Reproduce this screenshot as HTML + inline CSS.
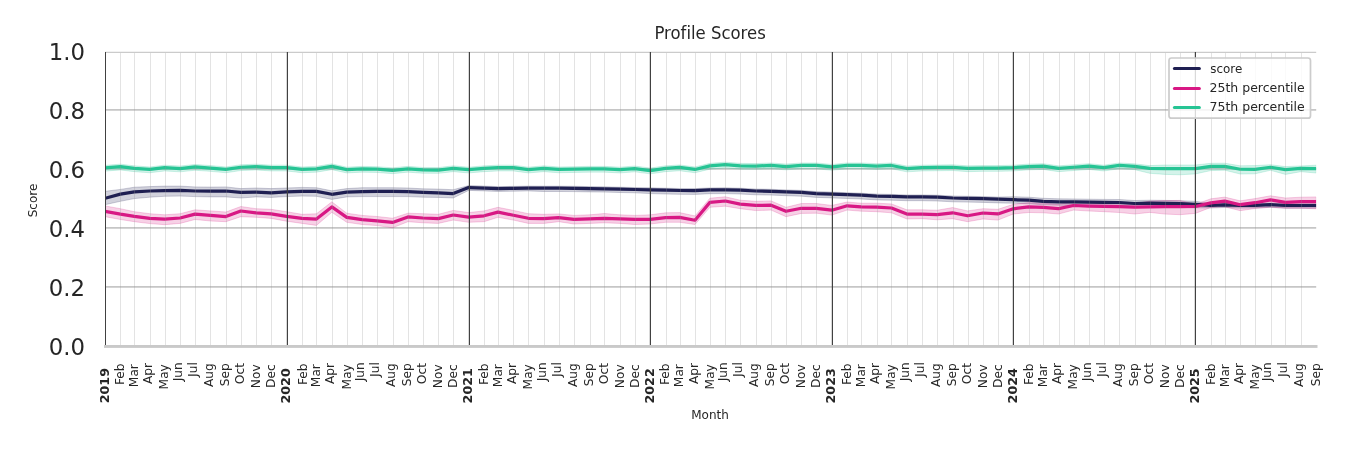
<!DOCTYPE html>
<html><head><meta charset="utf-8"><title>Profile Scores</title><style>
html,body{margin:0;padding:0;background:#fff;}
body{width:1350px;height:450px;overflow:hidden;}
svg{display:block;will-change:transform;}
text{font-family:"DejaVu Sans","Liberation Sans",sans-serif;fill:#262626;font-variant-ligatures:none;font-feature-settings:"liga" 0,"clig" 0;}
.title{font-size:17.6px;}
.yt{font-size:22.8px;}
.ax{font-size:12px;}
.lg{font-size:12.5px;}
.xt{font-size:12.2px;}
.xty{font-size:12.7px;font-weight:bold;}
</style></head>
<body><svg width="1350" height="450" viewBox="0 0 1350 450"><rect width="1350" height="450" fill="#fff"/><defs><clipPath id="ax"><rect x="105.0" y="51.0" width="1211.2" height="295.3"/></clipPath></defs><line x1="105.0" x2="1316.2" y1="286.9" y2="286.9" stroke="#c6c6c6" stroke-width="1.8"/><line x1="105.0" x2="1316.2" y1="227.9" y2="227.9" stroke="#c6c6c6" stroke-width="1.8"/><line x1="105.0" x2="1316.2" y1="168.9" y2="168.9" stroke="#c6c6c6" stroke-width="1.8"/><line x1="105.0" x2="1316.2" y1="109.9" y2="109.9" stroke="#c6c6c6" stroke-width="1.8"/><line x1="105.0" x2="1316.2" y1="52.4" y2="52.4" stroke="#cbcbcb" stroke-width="1.2"/><g clip-path="url(#ax)"><polygon points="105,191.3 120.42,189.4 134.35,187.2 149.77,186.6 164.69,186.1 180.11,186.1 195.04,186.9 210.46,187.1 225.88,186.9 240.8,188.6 256.22,188 271.15,188.6 286.57,188 301.99,187.4 316.42,187.7 331.84,190.8 346.76,188.6 362.18,187.7 377.11,187.7 392.53,187.7 407.95,188 422.87,188.8 438.29,189.1 453.21,189.7 468.64,185.6 484.06,186.1 497.99,186.6 513.41,186.4 528.33,186.1 543.75,186.2 558.67,186.2 574.1,186.3 589.52,186.6 604.44,186.8 619.86,187.2 634.78,187.5 650.21,187.8 665.63,188.2 679.55,188.5 694.98,188.6 709.9,187.9 725.32,187.8 740.24,188.2 755.66,189 771.09,189.3 786.01,189.9 801.43,190.4 816.35,191.6 831.77,192.1 847.2,192.7 861.12,193.2 876.54,194.1 891.47,194.4 906.89,194.9 921.81,194.9 937.23,195.2 952.65,196 967.58,196.3 983,196.6 997.92,197.1 1013.34,196.7 1028.76,197.2 1043.19,198.3 1058.61,198.8 1073.54,198.9 1088.96,199.2 1103.88,199.4 1119.3,199.5 1134.72,200.5 1149.64,200.2 1165.07,200.4 1179.99,200.7 1195.41,201.3 1210.83,203.5 1224.76,203 1240.18,203.6 1255.1,203.5 1270.53,202.9 1285.45,203.7 1300.87,203.7 1316.29,203.7 1316.29,208.2 1300.87,208.2 1285.45,208.2 1270.53,207.4 1255.1,208 1240.18,208.1 1224.76,207.5 1210.83,208 1195.41,207.8 1179.99,207.2 1165.07,206.9 1149.64,206.7 1134.72,207 1119.3,206 1103.88,205.9 1088.96,205.7 1073.54,205.4 1058.61,205.3 1043.19,204.8 1028.76,203.7 1013.34,203.2 997.92,202.9 983,202.4 967.58,202.1 952.65,201.8 937.23,201 921.81,200.7 906.89,200.7 891.47,200.2 876.54,199.9 861.12,199 847.2,198.5 831.77,197.9 816.35,197.4 801.43,196.2 786.01,195.7 771.09,195.1 755.66,194.8 740.24,194 725.32,193.6 709.9,193.7 694.98,194.4 679.55,194.3 665.63,194 650.21,193.6 634.78,192.8 619.86,192.5 604.44,192.1 589.52,191.9 574.1,191.6 558.67,191.5 543.75,191.5 528.33,190.9 513.41,191.2 497.99,191.4 484.06,190.9 468.64,190.4 453.21,198 438.29,197.4 422.87,197.2 407.95,196.6 392.53,196.6 377.11,196.6 362.18,196.6 346.76,196.9 331.84,199.4 316.42,196.3 301.99,196.1 286.57,196.6 271.15,197.4 256.22,196.9 240.8,198 225.88,196.9 210.46,196.9 195.04,196.6 180.11,196.1 164.69,196.3 149.77,197.2 134.35,198.6 120.42,201.3 105,204.7" fill="#1f1f52" fill-opacity="0.2" stroke="#1f1f52" stroke-opacity="0.2" stroke-width="1"/><polygon points="105,205.9 120.42,208.7 134.35,211.7 149.77,213.7 164.69,214.8 180.11,213.7 195.04,209.8 210.46,210.9 225.88,212 240.8,206.5 256.22,208.7 271.15,209.3 286.57,211.7 301.99,214.3 316.42,213.8 331.84,201.8 346.76,213.2 362.18,215.4 377.11,216.5 392.53,218.2 407.95,213.2 422.87,213.7 438.29,214.3 453.21,210.4 468.64,212.6 484.06,210.9 497.99,207.3 513.41,210.4 528.33,213.7 543.75,214.3 558.67,213.9 574.1,215.4 589.52,214.8 604.44,213.5 619.86,214.8 634.78,215.4 650.21,214.8 665.63,212.8 679.55,212.6 694.98,215.9 709.9,198.2 725.32,196.8 740.24,200.2 755.66,201.3 771.09,200.9 786.01,207.3 801.43,203.5 816.35,203.5 831.77,205.4 847.2,202 861.12,203.2 876.54,203.2 891.47,203.9 906.89,209.8 921.81,209.8 937.23,210.2 952.65,207.6 967.58,210.9 983,208.7 997.92,209.3 1013.34,204.3 1028.76,202.6 1043.19,203.2 1058.61,204.3 1073.54,202 1088.96,202.6 1103.88,203.2 1119.3,203.6 1134.72,203.7 1149.64,201.1 1165.07,200.6 1179.99,200.4 1195.41,204.3 1210.83,198.8 1224.76,197.1 1240.18,200.8 1255.1,198.6 1270.53,195.8 1285.45,198 1300.87,197.2 1316.29,196.9 1316.29,208.8 1300.87,208.2 1285.45,208.2 1270.53,207.1 1255.1,208.5 1240.18,210.7 1224.76,206.7 1210.83,207.4 1195.41,213.4 1179.99,214.7 1165.07,214.1 1149.64,212.4 1134.72,214 1119.3,212.5 1103.88,211.7 1088.96,211 1073.54,210.1 1058.61,214 1043.19,212.8 1028.76,212.5 1013.34,214 997.92,220.1 983,219 967.58,221.7 952.65,218.7 937.23,219.8 921.81,218.7 906.89,219 891.47,212.8 876.54,211.7 861.12,211.2 847.2,210.1 831.77,215.1 816.35,213.2 801.43,213.4 786.01,216.7 771.09,210.1 755.66,210.6 740.24,208.7 725.32,206.2 709.9,207.3 694.98,224.5 679.55,222.3 665.63,222.3 650.21,224 634.78,224.5 619.86,223.4 604.44,222.8 589.52,223.4 574.1,224 558.67,221.7 543.75,223.4 528.33,223.4 513.41,220.1 497.99,217.3 484.06,221.7 468.64,222.3 453.21,220.1 438.29,223.4 422.87,222.8 407.95,221.7 392.53,227.8 377.11,225.6 362.18,224.5 346.76,222.3 331.84,212.3 316.42,225.4 301.99,223.4 286.57,221.2 271.15,218.4 256.22,217.3 240.8,216.7 225.88,221.7 210.46,221 195.04,219.5 180.11,223.4 164.69,224.7 149.77,223.6 134.35,221.7 120.42,219.5 105,216.7" fill="#d81884" fill-opacity="0.2" stroke="#d81884" stroke-opacity="0.2" stroke-width="1"/><polygon points="105,165.35 120.42,164.15 134.35,165.85 149.77,166.95 164.69,165.15 180.11,166.05 195.04,164.45 210.46,165.55 225.88,166.95 240.8,164.75 256.22,164.15 271.15,165.15 286.57,165.15 301.99,166.95 316.42,166.35 331.84,163.85 346.76,167.15 362.18,166.35 377.11,166.65 392.53,167.85 407.95,166.35 422.87,167.45 438.29,167.55 453.21,165.85 468.64,167.15 484.06,165.85 497.99,165.15 513.41,165.15 528.33,167.15 543.75,165.85 558.67,166.95 574.1,166.65 589.52,166.35 604.44,166.35 619.86,167.15 634.78,166.05 650.21,168.05 665.63,165.85 679.55,164.95 694.98,166.95 709.9,163.35 725.32,162.15 740.24,163.35 755.66,163.55 771.09,162.95 786.01,164.05 801.43,162.95 816.35,162.95 831.77,164.45 847.2,162.95 861.12,162.95 876.54,163.65 891.47,162.95 906.89,166.05 921.81,165.15 937.23,164.95 952.65,164.75 967.58,165.85 983,165.55 997.92,165.55 1013.34,165.15 1028.76,164.05 1043.19,163.65 1058.61,165.85 1073.54,164.75 1088.96,163.65 1103.88,165.15 1119.3,162.95 1134.72,163.85 1149.64,165.6 1165.07,165 1179.99,165 1195.41,165 1210.83,163.3 1224.76,163.2 1240.18,165.8 1255.1,165.6 1270.53,164.7 1285.45,166.6 1300.87,165.9 1316.29,165.2 1316.29,173 1300.87,171.7 1285.45,174.4 1270.53,170.3 1255.1,173.8 1240.18,174 1224.76,170.2 1210.83,170.6 1195.41,173.9 1179.99,174.8 1165.07,174.4 1149.64,173.3 1134.72,169.65 1119.3,168.75 1103.88,170.95 1088.96,169.45 1073.54,170.55 1058.61,171.65 1043.19,169.45 1028.76,169.85 1013.34,170.95 997.92,171.35 983,171.35 967.58,171.65 952.65,170.55 937.23,170.75 921.81,170.95 906.89,171.85 891.47,168.75 876.54,169.45 861.12,168.75 847.2,168.75 831.77,170.25 816.35,168.75 801.43,168.75 786.01,169.85 771.09,168.75 755.66,169.35 740.24,169.15 725.32,167.95 709.9,169.15 694.98,172.75 679.55,170.75 665.63,171.65 650.21,173.85 634.78,171.85 619.86,172.95 604.44,172.15 589.52,172.15 574.1,172.45 558.67,172.75 543.75,171.65 528.33,172.95 513.41,170.95 497.99,170.95 484.06,171.65 468.64,172.95 453.21,171.65 438.29,173.35 422.87,173.25 407.95,172.15 392.53,173.65 377.11,172.45 362.18,172.15 346.76,172.95 331.84,169.65 316.42,172.15 301.99,172.75 286.57,170.95 271.15,170.95 256.22,169.95 240.8,170.55 225.88,172.75 210.46,171.35 195.04,170.25 180.11,171.85 164.69,170.95 149.77,172.75 134.35,171.65 120.42,169.95 105,171.15" fill="#26c494" fill-opacity="0.2" stroke="#26c494" stroke-opacity="0.2" stroke-width="1"/><polyline points="105,198.3 120.42,194.1 134.35,191.9 149.77,191 164.69,190.6 180.11,190.4 195.04,191 210.46,191.1 225.88,191 240.8,192.4 256.22,192.1 271.15,192.8 286.57,191.9 301.99,191.3 316.42,191.4 331.84,194.3 346.76,192.1 362.18,191.6 377.11,191.4 392.53,191.3 407.95,191.7 422.87,192.4 438.29,192.8 453.21,193.6 468.64,187.6 484.06,188.1 497.99,188.6 513.41,188.4 528.33,188.1 543.75,188.2 558.67,188.2 574.1,188.3 589.52,188.6 604.44,188.8 619.86,189.2 634.78,189.5 650.21,189.8 665.63,190.2 679.55,190.5 694.98,190.6 709.9,189.9 725.32,189.8 740.24,190.2 755.66,191 771.09,191.3 786.01,191.9 801.43,192.4 816.35,193.6 831.77,194.1 847.2,194.7 861.12,195.2 876.54,196.1 891.47,196.4 906.89,196.9 921.81,196.9 937.23,197.2 952.65,198 967.58,198.3 983,198.6 997.92,199.1 1013.34,199.7 1028.76,200.2 1043.19,201.3 1058.61,201.8 1073.54,201.9 1088.96,202.2 1103.88,202.4 1119.3,202.5 1134.72,203.5 1149.64,203.2 1165.07,203.4 1179.99,203.7 1195.41,204.3 1210.83,205.3 1224.76,204.8 1240.18,205.4 1255.1,205.3 1270.53,204.7 1285.45,205.5 1300.87,205.5 1316.29,205.5" fill="none" stroke="#1f1f52" stroke-width="3.2" stroke-linejoin="round" stroke-linecap="butt"/><polyline points="105,211.3 120.42,214.1 134.35,216.3 149.77,218.3 164.69,219.1 180.11,218 195.04,214.1 210.46,215.4 225.88,216.6 240.8,211 256.22,212.8 271.15,213.9 286.57,216.3 301.99,218.3 316.42,219.1 331.84,206.9 346.76,217.4 362.18,219.7 377.11,220.8 392.53,222.4 407.95,216.9 422.87,218 438.29,218.6 453.21,215 468.64,217.2 484.06,215.8 497.99,212.1 513.41,215.2 528.33,218.3 543.75,218.6 558.67,217.7 574.1,219.4 589.52,218.8 604.44,218.3 619.86,218.8 634.78,219.4 650.21,219.4 665.63,217.7 679.55,217.4 694.98,220.2 709.9,202.4 725.32,201 740.24,204.1 755.66,205.4 771.09,205.2 786.01,211.3 801.43,208.3 816.35,208.3 831.77,210.2 847.2,205.8 861.12,206.9 876.54,207.2 891.47,208 906.89,214.1 921.81,214.1 937.23,214.7 952.65,212.8 967.58,215.8 983,213 997.92,213.9 1013.34,208.8 1028.76,206.9 1043.19,207.4 1058.61,208.6 1073.54,205.5 1088.96,206.1 1103.88,206.4 1119.3,206.7 1134.72,207.2 1149.64,206.8 1165.07,206.7 1179.99,206.7 1195.41,206.5 1210.83,202.9 1224.76,201.1 1240.18,204.7 1255.1,202.7 1270.53,199.9 1285.45,202.4 1300.87,201.7 1316.29,201.7" fill="none" stroke="#d81884" stroke-width="3.2" stroke-linejoin="round" stroke-linecap="butt"/><polyline points="105,167.85 120.42,166.65 134.35,168.35 149.77,169.45 164.69,167.65 180.11,168.55 195.04,166.95 210.46,168.05 225.88,169.45 240.8,167.25 256.22,166.65 271.15,167.65 286.57,167.65 301.99,169.45 316.42,168.85 331.84,166.35 346.76,169.65 362.18,168.85 377.11,169.15 392.53,170.35 407.95,168.85 422.87,169.95 438.29,170.05 453.21,168.35 468.64,169.65 484.06,168.35 497.99,167.65 513.41,167.65 528.33,169.65 543.75,168.35 558.67,169.45 574.1,169.15 589.52,168.85 604.44,168.85 619.86,169.65 634.78,168.55 650.21,170.55 665.63,168.35 679.55,167.45 694.98,169.45 709.9,165.85 725.32,164.65 740.24,165.85 755.66,166.05 771.09,165.45 786.01,166.55 801.43,165.45 816.35,165.45 831.77,166.95 847.2,165.45 861.12,165.45 876.54,166.15 891.47,165.45 906.89,168.55 921.81,167.65 937.23,167.45 952.65,167.25 967.58,168.35 983,168.05 997.92,168.05 1013.34,167.65 1028.76,166.55 1043.19,166.15 1058.61,168.35 1073.54,167.25 1088.96,166.15 1103.88,167.65 1119.3,165.45 1134.72,166.35 1149.64,168.35 1165.07,168.55 1179.99,168.55 1195.41,168.55 1210.83,166.45 1224.76,166.35 1240.18,169.25 1255.1,169.35 1270.53,167.25 1285.45,169.65 1300.87,168.35 1316.29,168.65" fill="none" stroke="#26c494" stroke-width="3.2" stroke-linejoin="round" stroke-linecap="butt"/></g><line x1="120.5" x2="120.5" y1="53.0" y2="345.0" stroke="#939393" stroke-opacity="0.26" stroke-width="1"/><line x1="134.5" x2="134.5" y1="53.0" y2="345.0" stroke="#939393" stroke-opacity="0.26" stroke-width="1"/><line x1="150.5" x2="150.5" y1="53.0" y2="345.0" stroke="#939393" stroke-opacity="0.26" stroke-width="1"/><line x1="165.5" x2="165.5" y1="53.0" y2="345.0" stroke="#939393" stroke-opacity="0.26" stroke-width="1"/><line x1="180.5" x2="180.5" y1="53.0" y2="345.0" stroke="#939393" stroke-opacity="0.26" stroke-width="1"/><line x1="195.5" x2="195.5" y1="53.0" y2="345.0" stroke="#939393" stroke-opacity="0.26" stroke-width="1"/><line x1="210.5" x2="210.5" y1="53.0" y2="345.0" stroke="#939393" stroke-opacity="0.26" stroke-width="1"/><line x1="226.5" x2="226.5" y1="53.0" y2="345.0" stroke="#939393" stroke-opacity="0.26" stroke-width="1"/><line x1="241.5" x2="241.5" y1="53.0" y2="345.0" stroke="#939393" stroke-opacity="0.26" stroke-width="1"/><line x1="256.5" x2="256.5" y1="53.0" y2="345.0" stroke="#939393" stroke-opacity="0.26" stroke-width="1"/><line x1="271.5" x2="271.5" y1="53.0" y2="345.0" stroke="#939393" stroke-opacity="0.26" stroke-width="1"/><line x1="302.5" x2="302.5" y1="53.0" y2="345.0" stroke="#939393" stroke-opacity="0.26" stroke-width="1"/><line x1="316.5" x2="316.5" y1="53.0" y2="345.0" stroke="#939393" stroke-opacity="0.26" stroke-width="1"/><line x1="332.5" x2="332.5" y1="53.0" y2="345.0" stroke="#939393" stroke-opacity="0.26" stroke-width="1"/><line x1="347.5" x2="347.5" y1="53.0" y2="345.0" stroke="#939393" stroke-opacity="0.26" stroke-width="1"/><line x1="362.5" x2="362.5" y1="53.0" y2="345.0" stroke="#939393" stroke-opacity="0.26" stroke-width="1"/><line x1="377.5" x2="377.5" y1="53.0" y2="345.0" stroke="#939393" stroke-opacity="0.26" stroke-width="1"/><line x1="393.5" x2="393.5" y1="53.0" y2="345.0" stroke="#939393" stroke-opacity="0.26" stroke-width="1"/><line x1="408.5" x2="408.5" y1="53.0" y2="345.0" stroke="#939393" stroke-opacity="0.26" stroke-width="1"/><line x1="423.5" x2="423.5" y1="53.0" y2="345.0" stroke="#939393" stroke-opacity="0.26" stroke-width="1"/><line x1="438.5" x2="438.5" y1="53.0" y2="345.0" stroke="#939393" stroke-opacity="0.26" stroke-width="1"/><line x1="453.5" x2="453.5" y1="53.0" y2="345.0" stroke="#939393" stroke-opacity="0.26" stroke-width="1"/><line x1="484.5" x2="484.5" y1="53.0" y2="345.0" stroke="#939393" stroke-opacity="0.26" stroke-width="1"/><line x1="498.5" x2="498.5" y1="53.0" y2="345.0" stroke="#939393" stroke-opacity="0.26" stroke-width="1"/><line x1="513.5" x2="513.5" y1="53.0" y2="345.0" stroke="#939393" stroke-opacity="0.26" stroke-width="1"/><line x1="528.5" x2="528.5" y1="53.0" y2="345.0" stroke="#939393" stroke-opacity="0.26" stroke-width="1"/><line x1="544.5" x2="544.5" y1="53.0" y2="345.0" stroke="#939393" stroke-opacity="0.26" stroke-width="1"/><line x1="559.5" x2="559.5" y1="53.0" y2="345.0" stroke="#939393" stroke-opacity="0.26" stroke-width="1"/><line x1="574.5" x2="574.5" y1="53.0" y2="345.0" stroke="#939393" stroke-opacity="0.26" stroke-width="1"/><line x1="590.5" x2="590.5" y1="53.0" y2="345.0" stroke="#939393" stroke-opacity="0.26" stroke-width="1"/><line x1="604.5" x2="604.5" y1="53.0" y2="345.0" stroke="#939393" stroke-opacity="0.26" stroke-width="1"/><line x1="620.5" x2="620.5" y1="53.0" y2="345.0" stroke="#939393" stroke-opacity="0.26" stroke-width="1"/><line x1="635.5" x2="635.5" y1="53.0" y2="345.0" stroke="#939393" stroke-opacity="0.26" stroke-width="1"/><line x1="666.5" x2="666.5" y1="53.0" y2="345.0" stroke="#939393" stroke-opacity="0.26" stroke-width="1"/><line x1="680.5" x2="680.5" y1="53.0" y2="345.0" stroke="#939393" stroke-opacity="0.26" stroke-width="1"/><line x1="695.5" x2="695.5" y1="53.0" y2="345.0" stroke="#939393" stroke-opacity="0.26" stroke-width="1"/><line x1="710.5" x2="710.5" y1="53.0" y2="345.0" stroke="#939393" stroke-opacity="0.26" stroke-width="1"/><line x1="725.5" x2="725.5" y1="53.0" y2="345.0" stroke="#939393" stroke-opacity="0.26" stroke-width="1"/><line x1="740.5" x2="740.5" y1="53.0" y2="345.0" stroke="#939393" stroke-opacity="0.26" stroke-width="1"/><line x1="756.5" x2="756.5" y1="53.0" y2="345.0" stroke="#939393" stroke-opacity="0.26" stroke-width="1"/><line x1="771.5" x2="771.5" y1="53.0" y2="345.0" stroke="#939393" stroke-opacity="0.26" stroke-width="1"/><line x1="786.5" x2="786.5" y1="53.0" y2="345.0" stroke="#939393" stroke-opacity="0.26" stroke-width="1"/><line x1="801.5" x2="801.5" y1="53.0" y2="345.0" stroke="#939393" stroke-opacity="0.26" stroke-width="1"/><line x1="816.5" x2="816.5" y1="53.0" y2="345.0" stroke="#939393" stroke-opacity="0.26" stroke-width="1"/><line x1="847.5" x2="847.5" y1="53.0" y2="345.0" stroke="#939393" stroke-opacity="0.26" stroke-width="1"/><line x1="861.5" x2="861.5" y1="53.0" y2="345.0" stroke="#939393" stroke-opacity="0.26" stroke-width="1"/><line x1="877.5" x2="877.5" y1="53.0" y2="345.0" stroke="#939393" stroke-opacity="0.26" stroke-width="1"/><line x1="891.5" x2="891.5" y1="53.0" y2="345.0" stroke="#939393" stroke-opacity="0.26" stroke-width="1"/><line x1="907.5" x2="907.5" y1="53.0" y2="345.0" stroke="#939393" stroke-opacity="0.26" stroke-width="1"/><line x1="922.5" x2="922.5" y1="53.0" y2="345.0" stroke="#939393" stroke-opacity="0.26" stroke-width="1"/><line x1="937.5" x2="937.5" y1="53.0" y2="345.0" stroke="#939393" stroke-opacity="0.26" stroke-width="1"/><line x1="953.5" x2="953.5" y1="53.0" y2="345.0" stroke="#939393" stroke-opacity="0.26" stroke-width="1"/><line x1="968.5" x2="968.5" y1="53.0" y2="345.0" stroke="#939393" stroke-opacity="0.26" stroke-width="1"/><line x1="983.5" x2="983.5" y1="53.0" y2="345.0" stroke="#939393" stroke-opacity="0.26" stroke-width="1"/><line x1="998.5" x2="998.5" y1="53.0" y2="345.0" stroke="#939393" stroke-opacity="0.26" stroke-width="1"/><line x1="1029.5" x2="1029.5" y1="53.0" y2="345.0" stroke="#939393" stroke-opacity="0.26" stroke-width="1"/><line x1="1043.5" x2="1043.5" y1="53.0" y2="345.0" stroke="#939393" stroke-opacity="0.26" stroke-width="1"/><line x1="1059.5" x2="1059.5" y1="53.0" y2="345.0" stroke="#939393" stroke-opacity="0.26" stroke-width="1"/><line x1="1074.5" x2="1074.5" y1="53.0" y2="345.0" stroke="#939393" stroke-opacity="0.26" stroke-width="1"/><line x1="1089.5" x2="1089.5" y1="53.0" y2="345.0" stroke="#939393" stroke-opacity="0.26" stroke-width="1"/><line x1="1104.5" x2="1104.5" y1="53.0" y2="345.0" stroke="#939393" stroke-opacity="0.26" stroke-width="1"/><line x1="1119.5" x2="1119.5" y1="53.0" y2="345.0" stroke="#939393" stroke-opacity="0.26" stroke-width="1"/><line x1="1135.5" x2="1135.5" y1="53.0" y2="345.0" stroke="#939393" stroke-opacity="0.26" stroke-width="1"/><line x1="1150.5" x2="1150.5" y1="53.0" y2="345.0" stroke="#939393" stroke-opacity="0.26" stroke-width="1"/><line x1="1165.5" x2="1165.5" y1="53.0" y2="345.0" stroke="#939393" stroke-opacity="0.26" stroke-width="1"/><line x1="1180.5" x2="1180.5" y1="53.0" y2="345.0" stroke="#939393" stroke-opacity="0.26" stroke-width="1"/><line x1="1211.5" x2="1211.5" y1="53.0" y2="345.0" stroke="#939393" stroke-opacity="0.26" stroke-width="1"/><line x1="1225.5" x2="1225.5" y1="53.0" y2="345.0" stroke="#939393" stroke-opacity="0.26" stroke-width="1"/><line x1="1240.5" x2="1240.5" y1="53.0" y2="345.0" stroke="#939393" stroke-opacity="0.26" stroke-width="1"/><line x1="1255.5" x2="1255.5" y1="53.0" y2="345.0" stroke="#939393" stroke-opacity="0.26" stroke-width="1"/><line x1="1271.5" x2="1271.5" y1="53.0" y2="345.0" stroke="#939393" stroke-opacity="0.26" stroke-width="1"/><line x1="1285.5" x2="1285.5" y1="53.0" y2="345.0" stroke="#939393" stroke-opacity="0.26" stroke-width="1"/><line x1="1301.5" x2="1301.5" y1="53.0" y2="345.0" stroke="#939393" stroke-opacity="0.26" stroke-width="1"/><rect x="104" y="345" width="1213.5" height="2.9" fill="#c9c9c9"/><line x1="105.5" x2="105.5" y1="52.0" y2="345" stroke="#414141" stroke-width="1.0"/><line x1="287.4" x2="287.4" y1="52.0" y2="345" stroke="#414141" stroke-width="1.2"/><line x1="469.4" x2="469.4" y1="52.0" y2="345" stroke="#414141" stroke-width="1.2"/><line x1="650.4" x2="650.4" y1="52.0" y2="345" stroke="#414141" stroke-width="1.2"/><line x1="832.4" x2="832.4" y1="52.0" y2="345" stroke="#414141" stroke-width="1.2"/><line x1="1013.4" x2="1013.4" y1="52.0" y2="345" stroke="#414141" stroke-width="1.2"/><line x1="1195.4" x2="1195.4" y1="52.0" y2="345" stroke="#414141" stroke-width="1.2"/><rect x="1169.0" y="58.0" width="141.5" height="60.2" rx="2.5" ry="2.5" fill="#fff" fill-opacity="0.8" stroke="#cccccc" stroke-width="1.7"/><line x1="1174.4" x2="1199.4" y1="68.5" y2="68.5" stroke="#1f1f52" stroke-width="3" stroke-linecap="round"/><text x="1210.3" y="72.6" class="lg" textLength="32.0" lengthAdjust="spacingAndGlyphs">score</text><line x1="1174.4" x2="1199.4" y1="88.5" y2="88.5" stroke="#d81884" stroke-width="3" stroke-linecap="round"/><text x="1209.5" y="91.7" class="lg">25th percentile</text><line x1="1174.4" x2="1199.4" y1="107.5" y2="107.5" stroke="#26c494" stroke-width="3" stroke-linecap="round"/><text x="1209.5" y="110.7" class="lg">75th percentile</text><text x="654.4" y="38.8" class="title" textLength="111.4" lengthAdjust="spacingAndGlyphs">Profile Scores</text><text x="85" y="59.6" class="yt" text-anchor="end">1.0</text><text x="85" y="118.5" class="yt" text-anchor="end">0.8</text><text x="85" y="177.5" class="yt" text-anchor="end">0.6</text><text x="85" y="236.5" class="yt" text-anchor="end">0.4</text><text x="85" y="295.5" class="yt" text-anchor="end">0.2</text><text x="85" y="354.5" class="yt" text-anchor="end">0.0</text><text transform="translate(37.2,200.5) rotate(-90)" class="ax" text-anchor="middle">Score</text><text x="710" y="418.8" class="ax" text-anchor="middle">Month</text><text transform="translate(108.80,368.04) rotate(-90)" class="xty" text-anchor="end">2019</text><text transform="translate(123.94,363.52) rotate(-90)" class="xt" text-anchor="end">Feb</text><text transform="translate(138.05,364.14) rotate(-90)" class="xt" text-anchor="end">Mar</text><text transform="translate(151.75,363.01) rotate(-90)" class="xt" text-anchor="end">Apr</text><text transform="translate(168.15,364.18) rotate(-90)" class="xt" text-anchor="end">May</text><text transform="translate(182.03,362.20) rotate(-90)" class="xt" text-anchor="end">Jun</text><text transform="translate(196.90,362.16) rotate(-90)" class="xt" text-anchor="end">Jul</text><text transform="translate(212.83,363.17) rotate(-90)" class="xt" text-anchor="end">Aug</text><text transform="translate(228.98,363.21) rotate(-90)" class="xt" text-anchor="end">Sep</text><text transform="translate(244.26,363.08) rotate(-90)" class="xt" text-anchor="end">Oct</text><text transform="translate(259.62,364.38) rotate(-90)" class="xt" text-anchor="end">Nov</text><text transform="translate(274.55,364.36) rotate(-90)" class="xt" text-anchor="end">Dec</text><text transform="translate(290.37,368.25) rotate(-90)" class="xty" text-anchor="end">2020</text><text transform="translate(306.51,363.52) rotate(-90)" class="xt" text-anchor="end">Feb</text><text transform="translate(320.12,364.14) rotate(-90)" class="xt" text-anchor="end">Mar</text><text transform="translate(333.82,363.01) rotate(-90)" class="xt" text-anchor="end">Apr</text><text transform="translate(351.22,364.18) rotate(-90)" class="xt" text-anchor="end">May</text><text transform="translate(364.10,362.20) rotate(-90)" class="xt" text-anchor="end">Jun</text><text transform="translate(378.97,362.16) rotate(-90)" class="xt" text-anchor="end">Jul</text><text transform="translate(394.90,363.17) rotate(-90)" class="xt" text-anchor="end">Aug</text><text transform="translate(411.05,363.21) rotate(-90)" class="xt" text-anchor="end">Sep</text><text transform="translate(426.33,363.08) rotate(-90)" class="xt" text-anchor="end">Oct</text><text transform="translate(441.69,364.38) rotate(-90)" class="xt" text-anchor="end">Nov</text><text transform="translate(456.61,364.36) rotate(-90)" class="xt" text-anchor="end">Dec</text><text transform="translate(472.38,368.07) rotate(-90)" class="xty" text-anchor="end">2021</text><text transform="translate(487.58,363.52) rotate(-90)" class="xt" text-anchor="end">Feb</text><text transform="translate(501.69,364.14) rotate(-90)" class="xt" text-anchor="end">Mar</text><text transform="translate(516.39,363.01) rotate(-90)" class="xt" text-anchor="end">Apr</text><text transform="translate(531.79,364.18) rotate(-90)" class="xt" text-anchor="end">May</text><text transform="translate(545.67,362.20) rotate(-90)" class="xt" text-anchor="end">Jun</text><text transform="translate(560.53,362.16) rotate(-90)" class="xt" text-anchor="end">Jul</text><text transform="translate(577.47,363.17) rotate(-90)" class="xt" text-anchor="end">Aug</text><text transform="translate(592.62,363.21) rotate(-90)" class="xt" text-anchor="end">Sep</text><text transform="translate(607.90,363.08) rotate(-90)" class="xt" text-anchor="end">Oct</text><text transform="translate(624.26,364.38) rotate(-90)" class="xt" text-anchor="end">Nov</text><text transform="translate(639.18,364.36) rotate(-90)" class="xt" text-anchor="end">Dec</text><text transform="translate(653.95,368.23) rotate(-90)" class="xty" text-anchor="end">2022</text><text transform="translate(669.15,363.52) rotate(-90)" class="xt" text-anchor="end">Feb</text><text transform="translate(683.25,364.14) rotate(-90)" class="xt" text-anchor="end">Mar</text><text transform="translate(697.96,363.01) rotate(-90)" class="xt" text-anchor="end">Apr</text><text transform="translate(714.36,364.18) rotate(-90)" class="xt" text-anchor="end">May</text><text transform="translate(727.24,362.20) rotate(-90)" class="xt" text-anchor="end">Jun</text><text transform="translate(742.10,362.16) rotate(-90)" class="xt" text-anchor="end">Jul</text><text transform="translate(758.03,363.17) rotate(-90)" class="xt" text-anchor="end">Aug</text><text transform="translate(774.19,363.21) rotate(-90)" class="xt" text-anchor="end">Sep</text><text transform="translate(789.47,363.08) rotate(-90)" class="xt" text-anchor="end">Oct</text><text transform="translate(804.83,364.38) rotate(-90)" class="xt" text-anchor="end">Nov</text><text transform="translate(819.75,364.36) rotate(-90)" class="xt" text-anchor="end">Dec</text><text transform="translate(834.52,368.16) rotate(-90)" class="xty" text-anchor="end">2023</text><text transform="translate(850.72,363.52) rotate(-90)" class="xt" text-anchor="end">Feb</text><text transform="translate(864.82,364.14) rotate(-90)" class="xt" text-anchor="end">Mar</text><text transform="translate(878.52,363.01) rotate(-90)" class="xt" text-anchor="end">Apr</text><text transform="translate(894.93,364.18) rotate(-90)" class="xt" text-anchor="end">May</text><text transform="translate(908.81,362.20) rotate(-90)" class="xt" text-anchor="end">Jun</text><text transform="translate(923.67,362.16) rotate(-90)" class="xt" text-anchor="end">Jul</text><text transform="translate(939.60,363.17) rotate(-90)" class="xt" text-anchor="end">Aug</text><text transform="translate(955.75,363.21) rotate(-90)" class="xt" text-anchor="end">Sep</text><text transform="translate(971.04,363.08) rotate(-90)" class="xt" text-anchor="end">Oct</text><text transform="translate(987.40,364.38) rotate(-90)" class="xt" text-anchor="end">Nov</text><text transform="translate(1002.32,364.36) rotate(-90)" class="xt" text-anchor="end">Dec</text><text transform="translate(1017.14,368.13) rotate(-90)" class="xty" text-anchor="end">2024</text><text transform="translate(1033.28,363.52) rotate(-90)" class="xt" text-anchor="end">Feb</text><text transform="translate(1046.89,364.14) rotate(-90)" class="xt" text-anchor="end">Mar</text><text transform="translate(1060.59,363.01) rotate(-90)" class="xt" text-anchor="end">Apr</text><text transform="translate(1077.00,364.18) rotate(-90)" class="xt" text-anchor="end">May</text><text transform="translate(1090.88,362.20) rotate(-90)" class="xt" text-anchor="end">Jun</text><text transform="translate(1105.74,362.16) rotate(-90)" class="xt" text-anchor="end">Jul</text><text transform="translate(1121.67,363.17) rotate(-90)" class="xt" text-anchor="end">Aug</text><text transform="translate(1137.82,363.21) rotate(-90)" class="xt" text-anchor="end">Sep</text><text transform="translate(1153.11,363.08) rotate(-90)" class="xt" text-anchor="end">Oct</text><text transform="translate(1169.47,364.38) rotate(-90)" class="xt" text-anchor="end">Nov</text><text transform="translate(1184.39,364.36) rotate(-90)" class="xt" text-anchor="end">Dec</text><text transform="translate(1199.21,368.30) rotate(-90)" class="xty" text-anchor="end">2025</text><text transform="translate(1215.35,363.52) rotate(-90)" class="xt" text-anchor="end">Feb</text><text transform="translate(1229.46,364.14) rotate(-90)" class="xt" text-anchor="end">Mar</text><text transform="translate(1243.16,363.01) rotate(-90)" class="xt" text-anchor="end">Apr</text><text transform="translate(1258.56,364.18) rotate(-90)" class="xt" text-anchor="end">May</text><text transform="translate(1271.45,362.20) rotate(-90)" class="xt" text-anchor="end">Jun</text><text transform="translate(1287.31,362.16) rotate(-90)" class="xt" text-anchor="end">Jul</text><text transform="translate(1303.24,363.17) rotate(-90)" class="xt" text-anchor="end">Aug</text><text transform="translate(1320.39,363.21) rotate(-90)" class="xt" text-anchor="end">Sep</text></svg></body></html>
